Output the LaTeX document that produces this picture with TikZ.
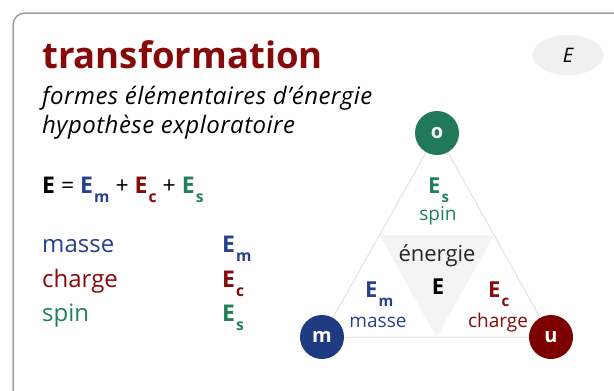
\documentclass[tikz,border=0pt]{standalone}
\usepackage{fontspec}
\usepackage{graphicx}
\usetikzlibrary{shapes.geometric,calc}
\setmainfont{Open Sans}
\definecolor{tred}{RGB}{135,10,10}
\definecolor{tblue}{RGB}{38,66,140}
\definecolor{tgreen}{RGB}{34,128,90}
\definecolor{cblue}{RGB}{30,58,128}
\definecolor{cgreen}{RGB}{32,122,88}
\definecolor{cred}{RGB}{125,0,0}
\newcommand\sbx[1]{\raisebox{-0.75ex}{\scalebox{0.68}{#1}}}
\newcommand\EE[1]{\textbf{E\kern0.05em\sbx{#1}}}
\tikzset{
  lbl/.style={anchor=base west, inner sep=0pt, font=\fontsize{24}{28}\selectfont},
  eqf/.style={anchor=base west, inner sep=0pt, font=\fontsize{23}{28}\selectfont},
  vtx/.style={circle, minimum size=44pt, inner sep=0pt, text=white, font=\fontsize{20}{24}\selectfont\bfseries},
  tri/.style={anchor=base, inner sep=0pt, font=\fontsize{19}{22}\selectfont},
  trie/.style={anchor=base west, inner sep=0pt, font=\fontsize{22}{26}\selectfont},
  edge/.style={draw=gray!22, line width=1pt}
}
\begin{document}
\begin{tikzpicture}[x=1pt,y=-1pt]
\useasboundingbox (0,0) rectangle (614,391);
\clip (0,0) rectangle (614,391);
\fill[white] (0,0) rectangle (614,391);
\draw[gray!75, line width=1.5pt, rounded corners=12pt] (13,13) rectangle (640,430);
% badge
\node[ellipse, fill=gray!12, minimum width=71pt, minimum height=40pt, inner sep=0pt, font=\fontsize{20}{22}\selectfont\itshape] (badge) at (568,55) {E};
% title
\node[anchor=base west, inner sep=0pt, text=tred, font=\fontsize{36.5}{40}\selectfont\bfseries] (title) at (42,68) {transformation};
\node[anchor=base west, inner sep=0pt, font=\fontsize{24}{28}\selectfont\itshape] (sub1) at (42,104) {\addfontfeature{LetterSpace=2}formes élémentaires d’énergie};
\node[anchor=base west, inner sep=0pt, font=\fontsize{24}{28}\selectfont\itshape] (sub2) at (42,133) {\addfontfeature{LetterSpace=2}hypothèse exploratoire};
% equation
\node[eqf] (eq) at (42,193) {\textbf{E} = \textcolor{tblue}{\EE{m}} + \textcolor{tred}{\EE{c}} + \textcolor{tgreen}{\EE{s}}};
% list
\node[lbl, text=tblue] (l1) at (42,252) {masse};
\node[lbl, text=tred] (l2) at (42,287) {charge};
\node[lbl, text=tgreen] (l3) at (42,321) {spin};
\node[eqf, text=tblue] (r1) at (222,252) {\EE{m}};
\node[eqf, text=tred] (r2) at (222,287) {\EE{c}};
\node[eqf, text=tgreen] (r3) at (222,321) {\EE{s}};
% triangle
\coordinate (O) at (437,133);
\coordinate (M) at (322,337);
\coordinate (U) at (551,337);
\fill[gray!9] ($(O)!0.5!(M)$) -- ($(O)!0.5!(U)$) -- ($(M)!0.5!(U)$) -- cycle;
\draw[edge] (O) -- (M) -- (U) -- cycle;
\node[vtx, fill=cgreen] (o) at (O) {o};
\node[vtx, fill=cblue] (m) at (M) {m};
\node[vtx, fill=cred] (u) at (U) {u};
\node[trie, text=tgreen] (es) at (428,193) {\EE{s}};
\node[tri, text=tgreen] (spin) at (438,220) {spin};
\node[tri, text=black!85, font=\fontsize{22}{26}\selectfont] (en) at (437,261) {énergie};
\node[tri, font=\fontsize{22}{26}\selectfont\bfseries] (E) at (438,294) {E};
\node[trie, text=tblue] (em) at (365,297) {\EE{m}};
\node[tri, text=tblue] (masse) at (378,327) {masse};
\node[trie, text=tred] (ec) at (488,297) {\EE{c}};
\node[tri, text=tred] (charge) at (498,327) {charge};
\end{tikzpicture}
\end{document}
